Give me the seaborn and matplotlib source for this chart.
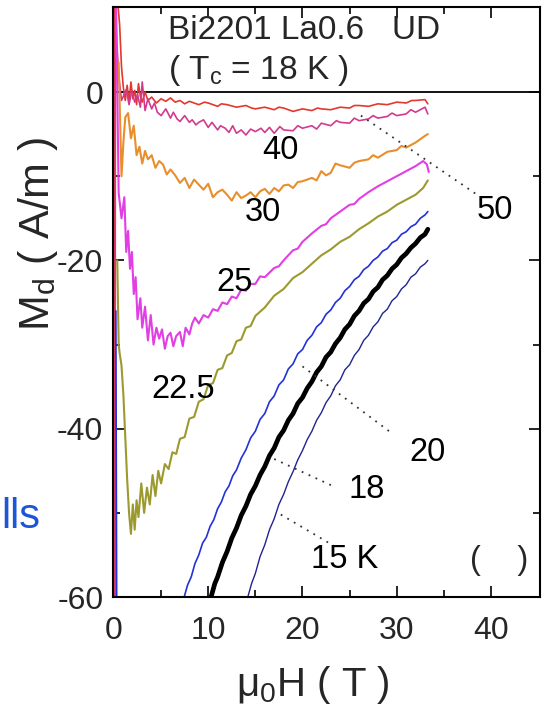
import numpy as np
import pandas as pd
import matplotlib
matplotlib.use("Agg")
import matplotlib.pyplot as plt
import seaborn as sns

# ---------------- data ----------------
temps = ["50", "40", "30", "25", "22.5", "20", "18", "15"]

S50 = [(0.02, -65), (0.06, 12), (0.3, 12), (0.6, 8), (0.8, 3), (1.0, 0.5), (1.2, -1.0), (1.4, 0.8),
       (1.6, -1.2), (1.8, 1.2), (2.0, -0.8), (2.2, 0.2), (2.4, -1.5), (2.6, 1.0), (2.8, -0.5),
       (3.0, -1.2), (3.3, 0.0), (3.6, -1.0), (4.0, -0.6), (4.5, -1.3), (5.0, -0.8), (5.5, -1.1),
       (6.0, -0.7), (6.5, -1.2), (7.0, -1.0), (7.5, -1.4), (8.0, -1.1), (9, -1.5), (9.6, -1.2),
       (10, -1.3), (11, -1.7), (11.4, -1.4), (12, -1.5), (13, -1.8), (14, -1.6), (14.6, -1.9),
       (15, -2.0), (16, -1.8), (17, -2.1), (17.5, -1.8), (18, -1.9), (19, -2.3), (20, -2.0),
       (21, -2.2), (21.6, -1.9), (22, -2.0), (23, -2.1), (24, -1.8), (25, -1.9), (25.5, -1.6),
       (26, -1.6), (27, -1.7), (28, -1.4), (29, -1.5), (30, -1.2), (31, -1.3), (31.6, -1.0),
       (32, -1.0), (33, -0.9), (33.3, -1.4)]

S40 = [(0.12, -65), (0.15, 12), (0.3, 6), (0.5, 2), (0.8, -1.0), (1.0, -0.5), (1.3, 0.3), (1.6, -1.5),
       (1.9, 0.2), (2.2, -1.2), (2.5, -0.3), (2.8, -1.8), (3.0, 1.2), (3.3, -2.2), (3.6, -0.8),
       (4.0, -2.0), (4.3, -1.3), (4.6, -2.4), (5.0, -2.8), (5.5, -2.0), (6.0, -3.1), (6.3, -2.4),
       (6.7, -3.2), (7.0, -3.5), (7.5, -2.8), (8.0, -3.6), (8.3, -3.3), (8.7, -3.9), (9.0, -3.6),
       (9.5, -3.3), (10, -4.2), (10.4, -3.6), (11, -4.5), (11.3, -4.0), (11.8, -4.3), (12.2, -4.8),
       (12.6, -4.0), (13, -4.9), (13.5, -4.5), (14, -5.1), (14.5, -4.4), (15, -4.7), (15.6, -4.3),
       (16, -4.8), (16.5, -4.2), (17, -4.9), (17.6, -4.1), (18, -4.5), (19, -4.6), (19.5, -4.0),
       (20, -4.3), (21, -4.0), (21.5, -4.4), (22, -3.7), (23, -4.0), (23.6, -3.4), (24, -3.6),
       (25, -3.7), (25.5, -3.1), (26, -3.4), (27, -3.2), (27.5, -2.8), (28, -3.1), (29, -2.9),
       (29.5, -2.5), (30, -2.8), (31, -2.6), (31.5, -2.1), (32, -2.4), (33, -1.8), (33.3, -2.6)]

S30 = [(0.5, 3.5), (0.8, -10), (1.0, -6), (1.2, -3), (1.5, -2.5), (1.8, -5.5), (2.1, -4.0),
       (2.4, -7.5), (2.7, -6.5), (3.0, -8.5), (3.3, -7.0), (3.6, -8.0), (4.0, -7.5), (4.4, -9.0),
       (4.8, -8.2), (5.2, -8.6), (5.6, -9.8), (6.0, -9.2), (6.5, -9.9), (7.0, -10.8), (7.5, -10.2),
       (8.0, -11.4), (8.5, -10.4), (9.0, -11.0), (9.5, -11.6), (10, -10.9), (10.5, -12.5),
       (11, -11.9), (11.5, -11.6), (12, -12.2), (12.5, -12.9), (13, -11.9), (13.5, -12.6),
       (14, -12.3), (14.5, -11.9), (15, -12.5), (15.5, -11.8), (16, -11.5), (16.5, -12.1),
       (17, -11.4), (17.5, -11.8), (18, -11.1), (18.5, -11.0), (19, -11.4), (19.5, -10.7),
       (20, -10.6), (21, -10.2), (21.5, -10.5), (22, -9.4), (22.5, -9.9), (23, -9.6), (23.5, -8.5),
       (24, -8.7), (25, -9.0), (25.5, -8.4), (26, -8.2), (27, -8.0), (27.5, -7.5), (28, -7.8),
       (29, -7.1), (30, -6.9), (30.5, -6.4), (31, -6.6), (32, -6.0), (33, -5.2), (33.3, -5.0)]

S25 = [(0.2, 12), (0.5, -12), (0.8, -15), (1.1, -12.5), (1.3, -19), (1.5, -16.5), (1.7, -21),
       (1.9, -19), (2.1, -24), (2.3, -22), (2.5, -27), (2.8, -24.5), (3.0, -28), (3.3, -25.5),
       (3.6, -29.5), (3.9, -26.5), (4.2, -30), (4.5, -28.0), (4.8, -29.3), (5.1, -28.2),
       (5.4, -30.5), (5.7, -29.0), (6.0, -28.6), (6.3, -30.2), (6.6, -29.0), (7.0, -28.5),
       (7.3, -30.2), (7.6, -28.0), (8.0, -28.8), (8.3, -27.5), (8.6, -26.8), (9.0, -27.5),
       (9.5, -26.5), (10, -26.8), (10.5, -25.8), (11, -26.0), (11.5, -25.0), (12, -25.2),
       (12.5, -24.3), (13, -24.5), (13.5, -23.5), (14, -23.6), (14.5, -22.8), (15, -22.8),
       (15.5, -21.9), (16, -22.0), (17, -20.9), (17.5, -20.7), (18, -20.0), (19, -18.8),
       (19.5, -18.6), (20, -17.8), (21, -16.8), (22, -15.9), (22.5, -15.7), (23, -15.0),
       (24, -14.2), (25, -13.4), (25.5, -13.3), (26, -12.7), (27, -11.9), (28, -11.2),
       (29, -10.6), (30, -10.0), (31, -9.4), (32, -8.8), (32.8, -8.2), (33.2, -8.6), (33.4, -9.5)]

S225 = [(0.35, -20), (0.5, -30), (0.6, -31), (0.8, -32.5), (1.0, -36), (1.2, -41), (1.4, -46),
        (1.6, -50), (1.8, -52.5), (2.0, -49), (2.2, -52), (2.4, -48.5), (2.6, -50.5),
        (2.9, -46.5), (3.2, -50), (3.5, -47), (3.8, -49), (4.1, -45.5), (4.4, -48), (4.7, -45),
        (5.0, -46.5), (5.4, -44.2), (5.8, -44.8), (6.2, -42.8), (6.6, -43), (7.0, -41.2),
        (7.5, -41), (8.0, -38.8), (8.5, -38.6), (9.0, -36.8), (9.5, -36.5), (10, -34.8),
        (10.5, -34.6), (11, -33), (11.5, -32.8), (12, -31.3), (12.5, -31), (13, -29.6),
        (13.5, -29.4), (14, -28.0), (14.5, -27.8), (15, -26.6), (16, -25.6), (17, -24.2),
        (18, -23.4), (19, -22.1), (20, -21.4), (21, -20.4), (22, -19.4), (23, -18.7),
        (24, -17.8), (25, -17.2), (26, -16.3), (27, -15.6), (28, -14.8), (29, -14.2),
        (30, -13.4), (31, -12.8), (32, -12.2), (32.8, -11.4), (33.3, -10.5)]

S20 = [(0.2, -26), (0.3, -66), (7.0, -62), (7.4, -60.2), (7.8, -58.6), (8.2, -57.6), (8.6, -56.0),
       (9.0, -55.0), (9.4, -53.6), (9.8, -52.9), (10.2, -51.6), (10.6, -50.8), (11.0, -49.5),
       (11.4, -48.7), (11.8, -47.5), (12.2, -46.8), (12.6, -45.6), (13.0, -44.9), (13.5, -43.5),
       (14.0, -42.5), (14.5, -41.1), (15.0, -40.3), (15.5, -38.9), (16.0, -38.2), (16.5, -36.8),
       (17.0, -36.1), (17.5, -34.8), (18.0, -34.2), (18.5, -32.9), (19.0, -32.3), (19.5, -31.1),
       (20.0, -30.6), (20.5, -29.5), (21.0, -28.9), (21.5, -27.9), (22.0, -27.4), (22.5, -26.4),
       (23.0, -25.9), (23.5, -25.0), (24.0, -24.5), (24.5, -23.6), (25.0, -23.1), (25.5, -22.3),
       (26.0, -21.9), (26.5, -21.1), (27.0, -20.7), (27.5, -20.0), (28.0, -19.6), (28.5, -18.9),
       (29.0, -18.6), (29.5, -17.9), (30.0, -17.6), (30.5, -16.9), (31.0, -16.6), (31.5, -16.0),
       (32.0, -15.7), (32.5, -15.0), (33.0, -14.6), (33.3, -14.2)]

S18 = [(10.0, -61.2), (10.3, -60.0), (10.7, -58.4), (11.0, -57.6), (11.5, -55.9), (12.0, -54.6),
       (12.5, -53.0), (13.0, -51.8), (13.5, -50.3), (14.0, -49.2), (14.5, -47.8), (15.0, -46.8),
       (15.5, -45.5), (16.0, -44.5), (16.5, -43.2), (17.0, -42.3), (17.5, -41.0), (18.0, -40.2),
       (18.5, -39.0), (19.0, -38.2), (19.5, -37.0), (20.0, -36.3), (20.5, -35.2), (21.0, -34.4),
       (21.5, -33.3), (22.0, -32.6), (22.5, -31.5), (23.0, -30.9), (23.5, -29.9), (24.0, -29.2),
       (24.5, -28.2), (25.0, -27.6), (25.5, -26.6), (26.0, -26.0), (26.5, -25.1), (27.0, -24.6),
       (27.5, -23.7), (28.0, -23.2), (28.5, -22.3), (29.0, -21.8), (29.5, -21.0), (30.0, -20.5),
       (30.5, -19.7), (31.0, -19.2), (31.5, -18.5), (32.0, -18.0), (32.5, -17.3), (33.0, -16.9),
       (33.3, -16.3)]

S15 = [(13.8, -61.5), (14.2, -60.0), (14.6, -58.4), (15.0, -57.2), (15.5, -55.2), (16.0, -53.8),
       (16.5, -52.0), (17.0, -50.7), (17.5, -49.0), (18.0, -47.8), (18.5, -46.3), (19.0, -45.1),
       (19.5, -43.7), (20.0, -42.6), (20.5, -41.3), (21.0, -40.3), (21.5, -39.0), (22.0, -38.1),
       (22.5, -36.9), (23.0, -36.1), (23.5, -34.9), (24.0, -34.2), (24.5, -33.0), (25.0, -32.4),
       (25.5, -31.3), (26.0, -30.6), (26.5, -29.5), (27.0, -28.9), (27.5, -27.9), (28.0, -27.3),
       (28.5, -26.3), (29.0, -25.8), (29.5, -24.8), (30.0, -24.3), (30.5, -23.4), (31.0, -22.9),
       (31.5, -22.0), (32.0, -21.6), (32.5, -20.8), (33.0, -20.4), (33.3, -20.0)]

series = [S50, S40, S30, S25, S225, S20, S18, S15]
colors = ["#e2382e", "#d23a8e", "#e88f2c", "#e03fe3", "#9c9a2f", "#2232d6", "#000000", "#1f2490"]
widths = [1.2, 1.2, 1.5, 1.5, 1.5, 1.2, 3.4, 1.0]

# curve labels
label_text = ["50", "40", "30", "25", "22.5", "20", "18", "15 K"]
label_H = [40.4, 17.7, 15.8, 12.8, 7.3, 33.3, 26.8, 24.5]
label_M = [-14.1, -6.9, -14.3, -22.6, -35.4, -42.8, -47.2, -55.6]

# dotted leader lines (start on curve -> toward label)
lead_H0 = [26.2, 20.0, 17.0, 17.7]
lead_M0 = [-2.8, -32.6, -43.6, -50.2]
lead_H1 = [38.4, 29.2, 23.2, 23.3]
lead_M1 = [-12.1, -40.3, -46.8, -53.9]

# ---------------- build table ----------------
rows = []
for t, s in zip(temps, series):
    for i, (h, m) in enumerate(s):
        rows.append({"T": t, "order": i, "H": h, "M": m})
df = pd.DataFrame(rows)

# ---------------- style ----------------
sns.set_theme(style="ticks")
plt.rcParams["font.family"] = ["Liberation Sans", "DejaVu Sans"]
plt.rcParams["mathtext.fontset"] = "custom"
plt.rcParams["mathtext.rm"] = "Liberation Sans"
plt.rcParams["mathtext.it"] = "Liberation Sans"
plt.rcParams["mathtext.bf"] = "Liberation Sans"
plt.rcParams["axes.unicode_minus"] = False

fig = plt.figure(figsize=(5.46, 7.11), dpi=100)
ax = fig.add_axes([0.207, 0.1603, 0.782, 0.8298])

ax.axhline(0, color="black", lw=1.3, zorder=1)

for t, c, w in zip(temps, colors, widths):
    sub = df[df["T"] == t]
    sns.lineplot(data=sub, x="H", y="M", color=c, lw=w, sort=False,
                 estimator=None, ax=ax, legend=False, zorder=3 if t == "18" else 2)

for h0, m0, h1, m1 in zip(lead_H0, lead_M0, lead_H1, lead_M1):
    ax.plot([h0, h1], [m0, m1], color="#333333", lw=1.3, ls=(0, (1, 3.2)), zorder=4)

for txt, h, m in zip(label_text, label_H, label_M):
    ax.text(h, m, txt, fontsize=23.5, ha="center", va="center", color="black", zorder=5)

ax.text(40.9, -55.7, "(    )", fontsize=23.5, ha="center", va="center")

ax.text(5.7, 6.26, "Bi2201 La0.6   UD", fontsize=24, ha="left", va="baseline")
ax.text(5.7, 1.54, r"( $\mathregular{T_c}$ = 18 K )", fontsize=24, ha="left", va="baseline")

ax.set_xlim(-0.1, 45.2)
ax.set_ylim(-60, 10.1)
ax.set_xticks([0, 10, 20, 30, 40])
ax.set_xticks([5, 15, 25, 35], minor=True)
ax.set_yticks([-60, -40, -20, 0])
ax.set_yticks([-50, -30, -10], minor=True)
ax.tick_params(which="both", direction="in", top=True, right=True, width=1.2, color="black")
ax.tick_params(which="major", length=8, labelsize=23)
ax.tick_params(which="minor", length=5)
ax.tick_params(axis="x", pad=14)
ax.tick_params(axis="y", pad=7)
for sp in ax.spines.values():
    sp.set_linewidth(1.5)
    sp.set_color("black")

ax.set_xlabel(r"$\mathregular{\mu_0}$H ( T )", fontsize=29)
ax.xaxis.set_label_coords(0.468, -0.113)
ax.set_ylabel(r"$\mathregular{M_d}$ ( A/m )", fontsize=31)
ax.yaxis.set_label_coords(-0.125, 0.615)

fig.text(1 / 546, 1 - 528 / 711, "lls", fontsize=30, color="#1a56d6", ha="left", va="baseline")

fig.savefig("out.png", dpi=100, facecolor="white")
